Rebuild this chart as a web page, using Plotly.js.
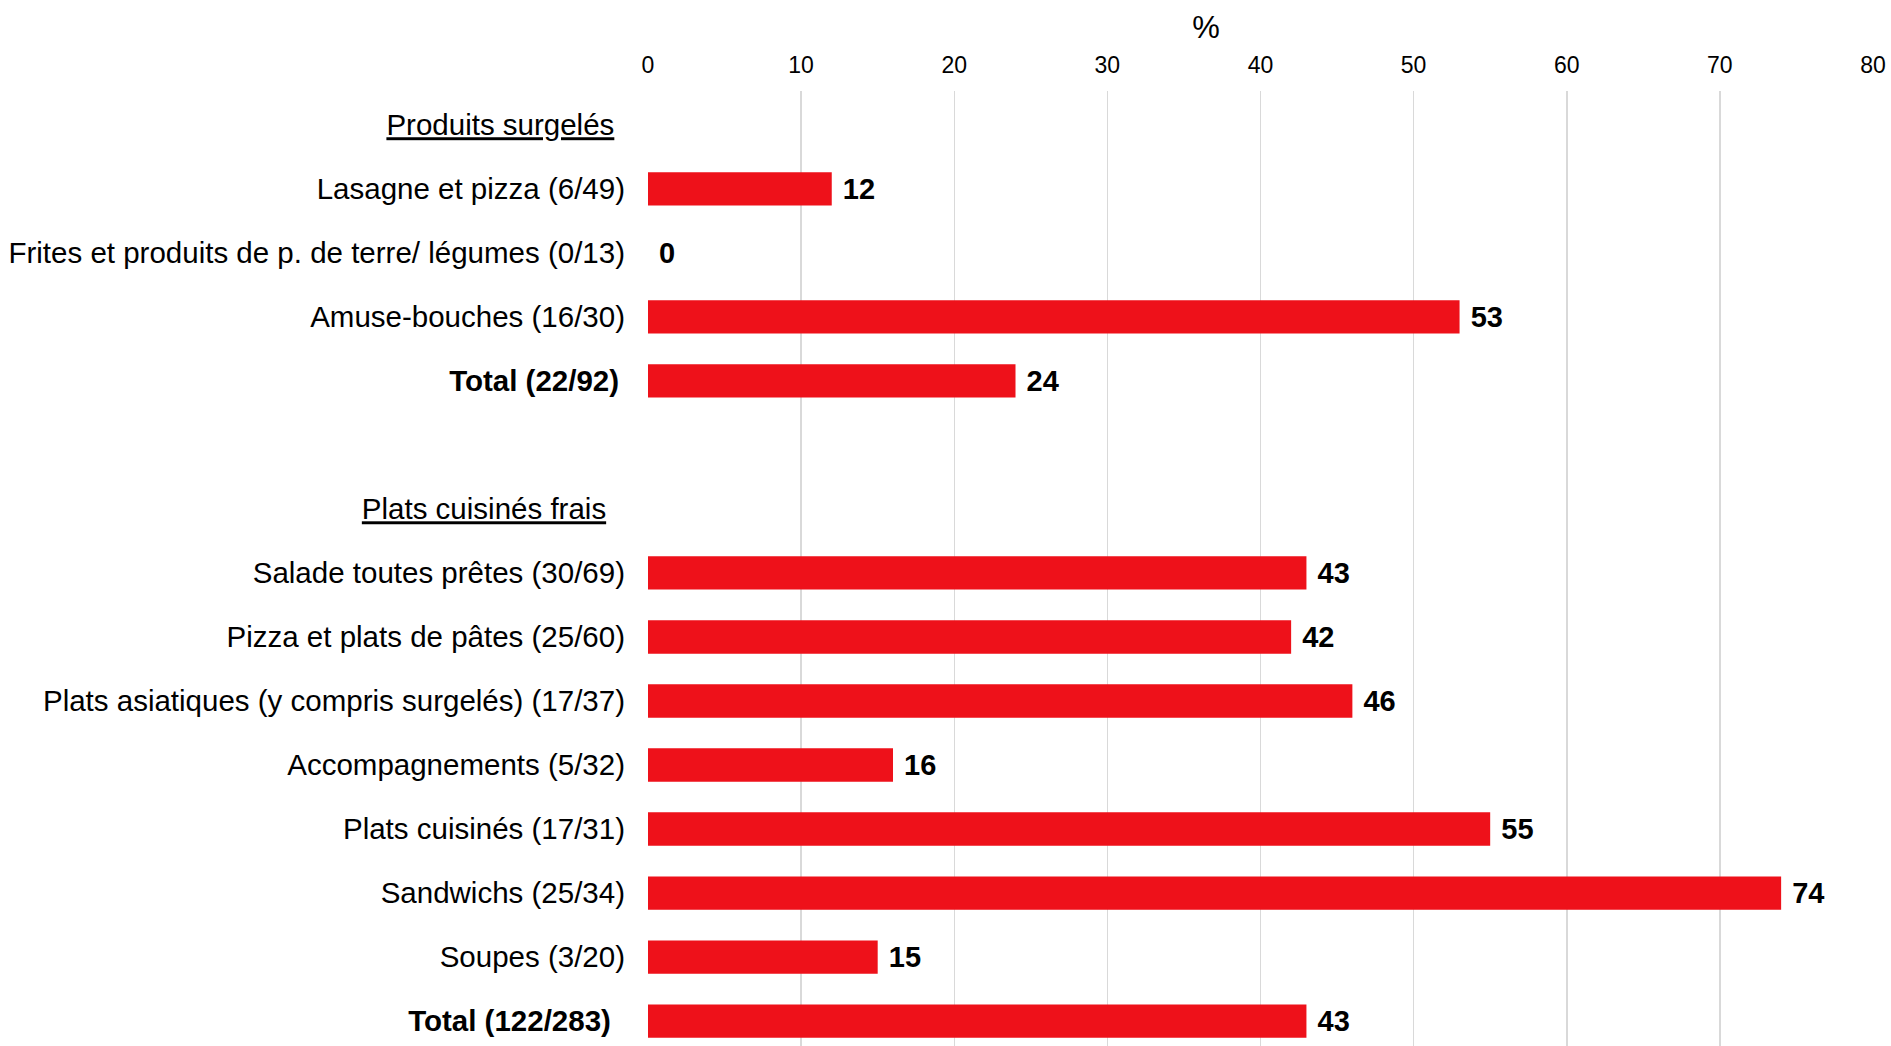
<!DOCTYPE html>
<html>
<head>
<meta charset="utf-8">
<script src="https://cdn.plot.ly/plotly-3.0.1.min.js"></script>
<style>html,body{margin:0;padding:0;background:#fff;}#chart{width:1891px;height:1046px;}</style>
</head>
<body>
<div id="chart"></div>
<script>
var categories = [
  "<u>Produits surgelés</u>\u00a0\u200a",
  "Lasagne et pizza (6/49)",
  "Frites et produits de p. de terre/ légumes (0/13)",
  "Amuse-bouches (16/30)",
  "<b>Total (22/92)</b>\u2009",
  "\u00a0",
  "<u>Plats cuisinés frais</u>\u00a0\u00a0\u200a",
  "Salade toutes prêtes (30/69)",
  "Pizza et plats de pâtes (25/60)",
  "Plats asiatiques (y compris surgelés) (17/37)",
  "Accompagnements (5/32)",
  "Plats cuisinés (17/31)",
  "Sandwichs (25/34)",
  "Soupes (3/20)",
  "<b>Total (122/283)</b>\u00a0\u2009"
];
var values = [null, 12, 0, 53, 24, null, null, 43, 42, 46, 16, 55, 74, 15, 43];
var valueLabels = values.map(function(v){ return v === null ? "" : "\u00a0" + v; });
var xTicks = [0, 10, 20, 30, 40, 50, 60, 70, 80];

var trace = {
  type: "bar",
  orientation: "h",
  y: categories,
  x: values,
  text: valueLabels,
  textposition: "outside",
  constraintext: "none",
  cliponaxis: false,
  textfont: {family: "Liberation Sans, Arial, sans-serif", size: 29, color: "#000", weight: "bold"},
  marker: {color: "#EE111A"},
  hoverinfo: "none"
};

var layout = {
  width: 1891,
  height: 1046,
  margin: {l: 648, r: 18, t: 91, b: 0},
  paper_bgcolor: "#fff",
  plot_bgcolor: "#fff",
  showlegend: false,
  bargap: 0.48,
  font: {family: "Liberation Sans, Arial, sans-serif", color: "#000"},
  title: {
    text: "%",
    font: {size: 31, color: "#000"},
    xref: "container", yref: "container",
    x: 1206 / 1891, xanchor: "center",
    y: 1 - 27 / 1046, yanchor: "middle"
  },
  xaxis: {
    side: "top",
    range: [0, 80],
    tickvals: xTicks,
    ticktext: xTicks.map(String),
    showgrid: true,
    gridcolor: "#d9d9d9",
    gridwidth: 1.5,
    zeroline: false,
    showline: false,
    ticks: "",
    ticklabelstandoff: 12,
    tickfont: {size: 23, color: "#000"},
    fixedrange: true
  },
  yaxis: {
    type: "category",
    categoryorder: "array",
    categoryarray: categories,
    range: [14.39, -0.53],
    showgrid: false,
    zeroline: false,
    showline: false,
    ticks: "",
    ticklabelstandoff: 22,
    tickfont: {size: 29.5, color: "#000"},
    fixedrange: true
  }
};

Plotly.newPlot("chart", [trace], layout, {displayModeBar: false, staticPlot: true});
</script>
</body>
</html>
